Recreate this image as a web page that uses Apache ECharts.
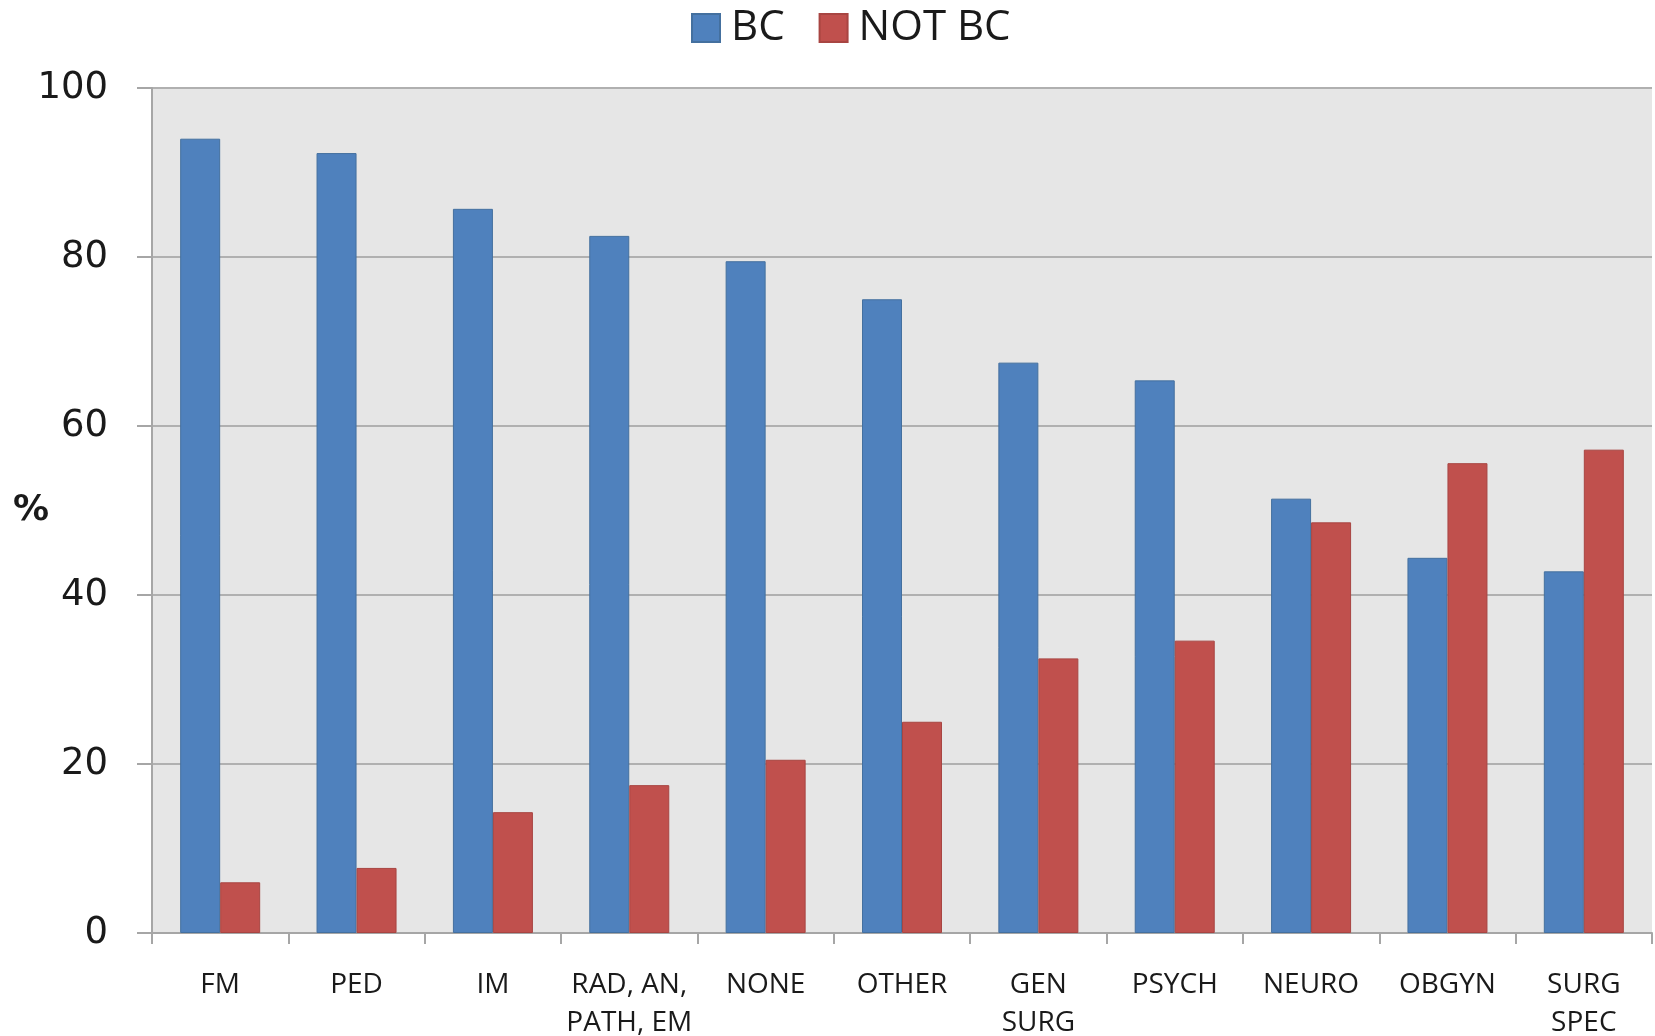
<!DOCTYPE html>
<html>
<head>
<meta charset="utf-8">
<script src="https://cdn.jsdelivr.net/npm/echarts@6/dist/echarts.min.js"></script>
<style>
  html, body { margin: 0; padding: 0; background: #ffffff; }
  #chart { width: 1655px; height: 1036px; }
</style>
</head>
<body>
<div id="chart"></div>
<script>
// Specialty categories along the x axis
const categories = ['FM', 'PED', 'IM', 'RAD, AN,\nPATH, EM', 'NONE', 'OTHER',
  'GEN\nSURG', 'PSYCH', 'NEURO', 'OBGYN', 'SURG\nSPEC'];

// Percentages per category
const bcValues    = [94.0, 92.3, 85.7, 82.5, 79.5, 75.0, 67.5, 65.4, 51.4, 44.4, 42.8];
const notBcValues = [6.0, 7.7, 14.3, 17.5, 20.5, 25.0, 32.5, 34.6, 48.6, 55.6, 57.2];

const seriesNames = ['BC', 'NOT BC'];
const yTicks = [0, 20, 40, 60, 80, 100];

const labelFont = "'Liberation Sans Narrow', 'Open Sans', sans-serif";
const chart = echarts.init(document.getElementById('chart'));

chart.setOption({
  animation: false,
  backgroundColor: '#ffffff',
  legend: {
    data: seriesNames,
    icon: 'rect',
    left: 686,
    top: 2,
    itemWidth: 28,
    itemHeight: 28,
    itemGap: 34,
    textStyle: { fontFamily: labelFont, fontSize: 42, color: '#1a1a1a', padding: [0, 0, 0, 6] }
  },
  grid: {
    left: 152, right: 3, top: 88, bottom: 103,
    containLabel: false,
    outerBoundsMode: 'none',
    show: true, backgroundColor: '#e6e6e6', borderWidth: 0
  },
  xAxis: {
    type: 'category',
    data: categories,
    axisLine: { lineStyle: { color: '#a6a6a6', width: 2 } },
    axisTick: { show: true, length: 11, alignWithLabel: false, lineStyle: { color: '#a6a6a6', width: 2 } },
    axisLabel: {
      interval: 0, margin: 33,
      fontFamily: labelFont, fontSize: 28, color: '#1a1a1a', lineHeight: 38
    }
  },
  yAxis: {
    type: 'value',
    min: yTicks[0],
    max: yTicks[yTicks.length - 1],
    interval: 20,
    name: '%',
    nameLocation: 'middle',
    nameRotate: 0,
    nameGap: 103,
    nameMoveOverlap: false,
    nameTextStyle: { fontFamily: 'DejaVu Sans', fontWeight: 'bold', fontSize: 36, color: '#1a1a1a' },
    axisLine: { show: true, lineStyle: { color: '#a6a6a6', width: 2 } },
    axisTick: { show: true, length: 15, lineStyle: { color: '#a6a6a6', width: 2 } },
    axisLabel: { margin: 44, fontFamily: 'DejaVu Sans', fontSize: 37, color: '#1a1a1a' },
    splitLine: { lineStyle: { color: '#b0b0b0', width: 2 } }
  },
  series: [
    {
      name: seriesNames[0], type: 'bar', data: bcValues,
      barWidth: 40, barGap: '0%',
      itemStyle: { color: '#4f81bd', borderColor: '#44709f', borderWidth: 1 }
    },
    {
      name: seriesNames[1], type: 'bar', data: notBcValues,
      barWidth: 40, barGap: '0%',
      itemStyle: { color: '#c0504d', borderColor: '#a84542', borderWidth: 1 }
    }
  ]
});
</script>
</body>
</html>
